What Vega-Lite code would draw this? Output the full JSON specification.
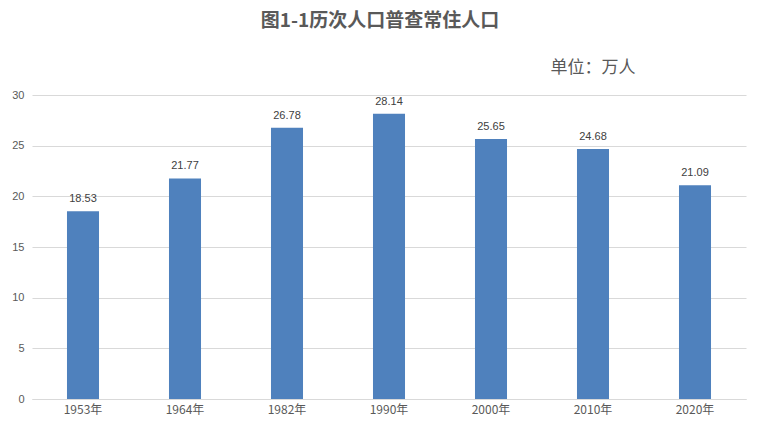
{
  "$schema": "https://vega.github.io/schema/vega-lite/v6.json",
  "width": 714,
  "height": 304,
  "autosize": {"type": "none"},
  "padding": {"left": 32, "top": 95, "right": 14, "bottom": 35},
  "background": "white",
  "title": {
    "text": "图1-1历次人口普查常住人口",
    "font": "Noto Sans CJK SC",
    "fontSize": 19,
    "fontWeight": "bold",
    "color": "#595959",
    "anchor": "middle",
    "dx": -9,
    "offset": 27
  },
  "data": {
    "values": [
      {"year": "1953年", "pop": 18.53},
      {"year": "1964年", "pop": 21.77},
      {"year": "1982年", "pop": 26.78},
      {"year": "1990年", "pop": 28.14},
      {"year": "2000年", "pop": 25.65},
      {"year": "2010年", "pop": 24.68},
      {"year": "2020年", "pop": 21.09}
    ]
  },
  "encoding": {
    "x": {
      "field": "year",
      "type": "nominal",
      "sort": null,
      "scale": {"paddingInner": 0.686, "paddingOuter": 0.343}
    },
    "y": {
      "field": "pop",
      "type": "quantitative",
      "scale": {"domain": [0, 30], "nice": false}
    }
  },
  "layer": [
    {
      "mark": {"type": "bar", "color": "#4F81BD"},
      "encoding": {
        "x": {
          "field": "year",
          "type": "nominal",
          "sort": null,
          "axis": {
            "orient": "bottom",
            "title": null,
            "labelAngle": 0,
            "labelFont": "Noto Sans CJK SC",
            "labelFontSize": 12,
            "labelColor": "#595959",
            "labelPadding": 5,
            "ticks": false,
            "domainColor": "#d9d9d9",
            "domainWidth": 1,
            "grid": false
          }
        },
        "y": {
          "field": "pop",
          "type": "quantitative",
          "axis": {
            "title": null,
            "values": [0, 5, 10, 15, 20, 25, 30],
            "domain": false,
            "ticks": false,
            "labelFont": "Liberation Sans",
            "labelFontSize": 11,
            "labelColor": "#595959",
            "labelPadding": 8,
            "gridColor": "#d9d9d9",
            "gridWidth": 1
          }
        }
      }
    },
    {
      "mark": {
        "type": "text",
        "dy": -12,
        "font": "Liberation Sans",
        "fontSize": 11,
        "color": "#404040"
      },
      "encoding": {
        "text": {"field": "pop", "type": "quantitative", "format": ".2f"},
        "x": {
          "field": "year",
          "type": "nominal",
          "sort": null,
          "axis": {
            "orient": "top",
            "labels": false,
            "ticks": false,
            "domain": false,
            "grid": false,
            "title": "单位：万人",
            "titleFont": "Noto Sans CJK SC",
            "titleFontSize": 17,
            "titleFontWeight": "normal",
            "titleColor": "#595959",
            "titleAnchor": "start",
            "titleAlign": "left",
            "titleX": 518,
            "titleY": -28,
            "titleBaseline": "middle"
          }
        }
      }
    }
  ],
  "resolve": {"axis": {"x": "independent"}},
  "config": {
    "view": {"stroke": null}
  }
}
